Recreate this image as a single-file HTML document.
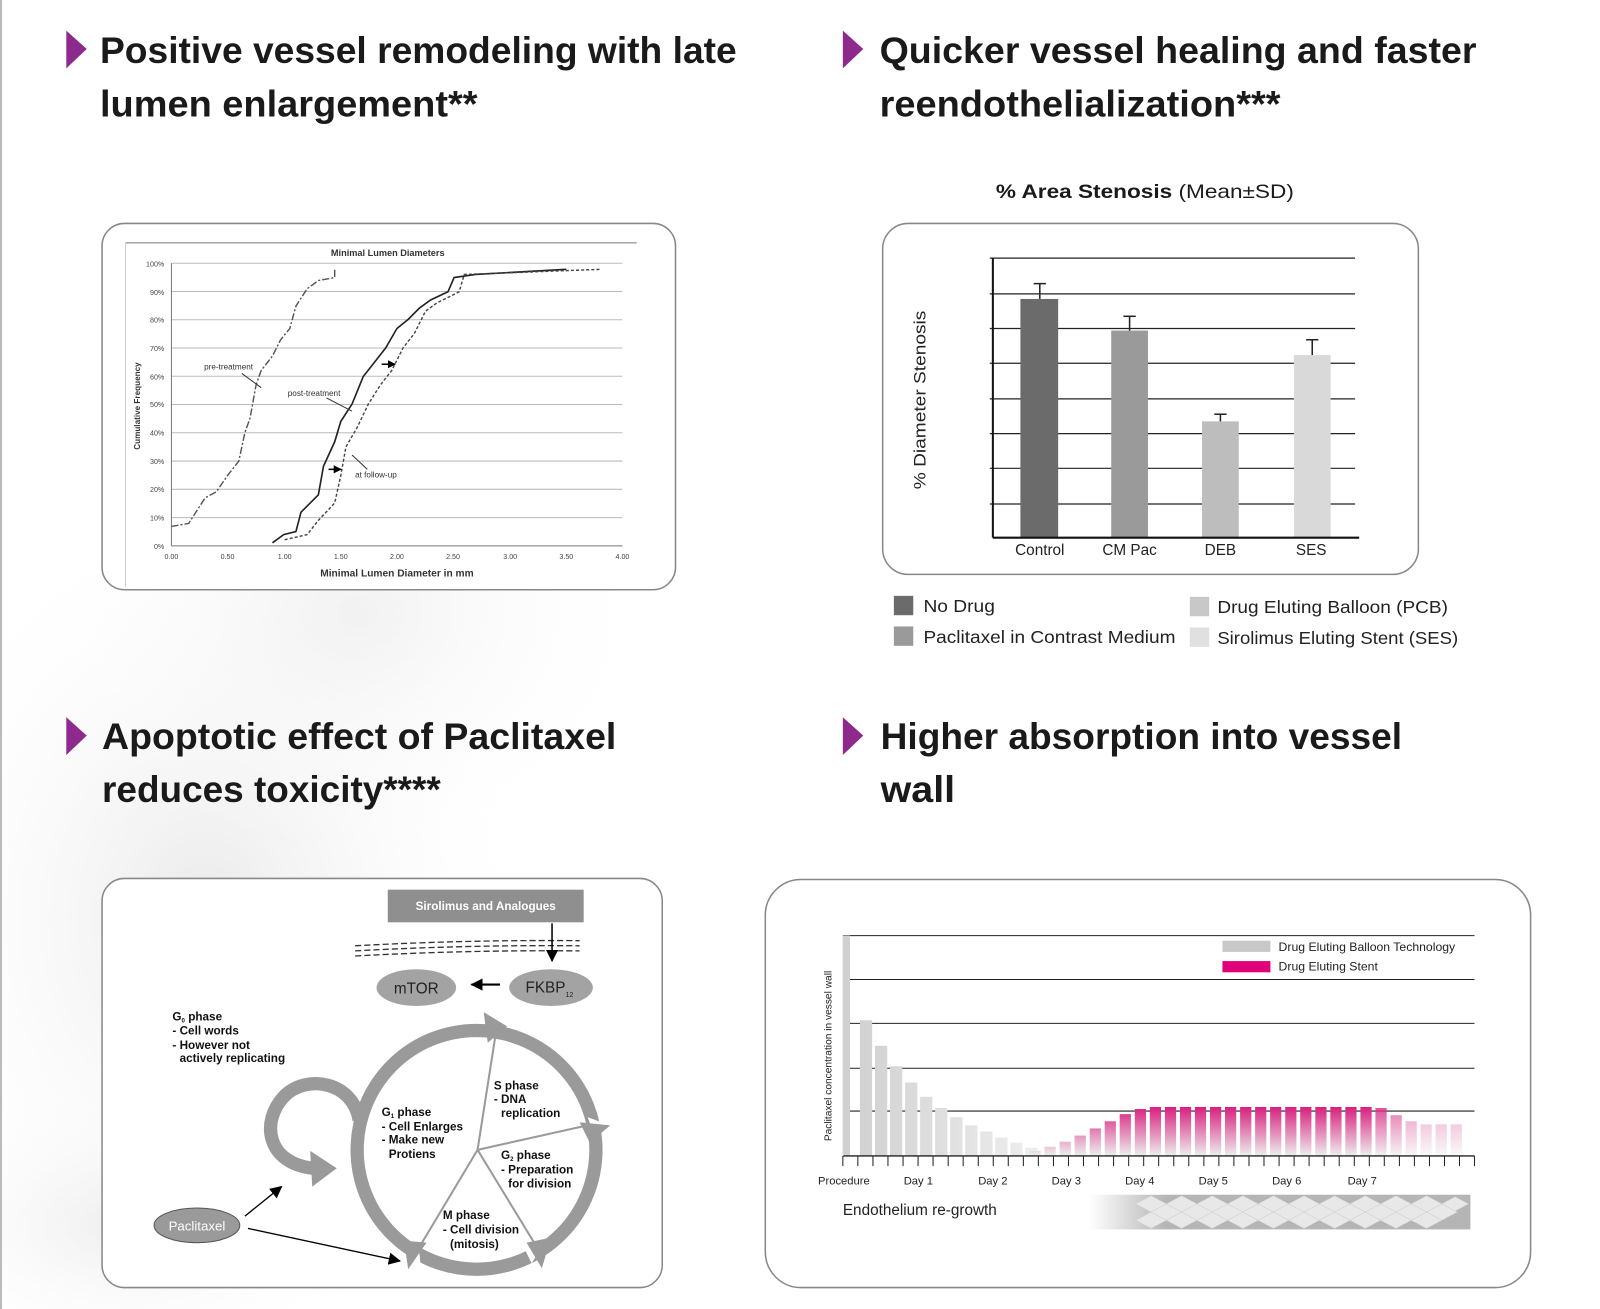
<!DOCTYPE html>
<html><head><meta charset="utf-8"><style>
html,body{margin:0;padding:0;background:#fff;width:1600px;height:1309px;overflow:hidden;}
svg{display:block;}
text{font-family:"Liberation Sans",Arial,sans-serif;}
</style></head><body>
<svg width="1600" height="1309" viewBox="0 0 1568 1283" preserveAspectRatio="none" xmlns="http://www.w3.org/2000/svg">
<defs>
<radialGradient id="bg1" cx="0.5" cy="0.5" r="0.5"><stop offset="0" stop-color="#e4e4e4"/><stop offset="1" stop-color="#fff" stop-opacity="0"/></radialGradient>
<linearGradient id="pink" gradientUnits="userSpaceOnUse" x1="0" y1="1085" x2="0" y2="1133"><stop offset="0" stop-color="#d81f7e"/><stop offset="1" stop-color="#eeeeee"/></linearGradient>
<linearGradient id="grayb" gradientUnits="userSpaceOnUse" x1="826" y1="0" x2="1010" y2="0"><stop offset="0" stop-color="#cfcfcf"/><stop offset="1" stop-color="#ededed"/></linearGradient>
<linearGradient id="band" x1="0" y1="0" x2="1" y2="0"><stop offset="0" stop-color="#fff"/><stop offset="0.2" stop-color="#b5b5b5"/><stop offset="1" stop-color="#b5b5b5"/></linearGradient>
<marker id="ah" markerWidth="8" markerHeight="8" refX="7" refY="4" orient="auto" markerUnits="userSpaceOnUse"><path d="M0,0 L8,4 L0,8z" fill="#000"/></marker>
<marker id="ahs" markerWidth="12" markerHeight="12" refX="11" refY="6" orient="auto" markerUnits="userSpaceOnUse"><path d="M0,0 L12,6 L0,12z" fill="#000"/></marker>
</defs>
<rect x="0" y="0" width="1568" height="1283" fill="#fff"/>
<ellipse cx="200" cy="900" rx="330" ry="420" fill="url(#bg1)" opacity="0.8"/>
<ellipse cx="350" cy="600" rx="300" ry="250" fill="url(#bg1)" opacity="0.5"/>
<ellipse cx="120" cy="1200" rx="250" ry="150" fill="url(#bg1)" opacity="0.6"/>
<line x1="1" y1="0" x2="1" y2="1283" stroke="#bbb" stroke-width="2"/>

<g fill="#8e2a8e">
<path d="M65,30 L85,48 L65,67z"/><path d="M826,30 L846,48 L826,67z"/>
<path d="M65,703 L85,721 L65,740z"/><path d="M826,703 L846,721 L826,740z"/>
</g>
<g font-size="36" font-weight="bold" fill="#1a1a1a">
<text x="98" y="62" textLength="624" lengthAdjust="spacingAndGlyphs">Positive vessel remodeling with late</text>
<text x="98" y="114" textLength="370" lengthAdjust="spacingAndGlyphs">lumen enlargement**</text>
<text x="862" y="62" textLength="585" lengthAdjust="spacingAndGlyphs">Quicker vessel healing and faster</text>
<text x="862" y="114" textLength="393" lengthAdjust="spacingAndGlyphs">reendothelialization***</text>
<text x="100" y="734" textLength="504" lengthAdjust="spacingAndGlyphs">Apoptotic effect of Paclitaxel</text>
<text x="100" y="786" textLength="332" lengthAdjust="spacingAndGlyphs">reduces toxicity****</text>
<text x="863" y="734" textLength="511" lengthAdjust="spacingAndGlyphs">Higher absorption into vessel</text>
<text x="863" y="786" textLength="73" lengthAdjust="spacingAndGlyphs">wall</text>
</g>

<!-- Box 1 -->
<rect x="100" y="219" width="562" height="359" rx="22" fill="#fff" stroke="#888" stroke-width="1.5"/>
<line x1="123" y1="238" x2="624" y2="238" stroke="#777"/>
<line x1="123" y1="238" x2="123" y2="575" stroke="#ccc"/>
<text x="380" y="251" font-size="9" font-weight="bold" text-anchor="middle" fill="#333">Minimal Lumen Diameters</text>
<g stroke="#bbb" stroke-width="1">
<line x1="168" y1="258" x2="610" y2="258"/><line x1="168" y1="285.7" x2="610" y2="285.7"/><line x1="168" y1="313.4" x2="610" y2="313.4"/><line x1="168" y1="341.1" x2="610" y2="341.1"/><line x1="168" y1="368.8" x2="610" y2="368.8"/><line x1="168" y1="396.5" x2="610" y2="396.5"/><line x1="168" y1="424.2" x2="610" y2="424.2"/><line x1="168" y1="451.9" x2="610" y2="451.9"/><line x1="168" y1="479.6" x2="610" y2="479.6"/><line x1="168" y1="507.3" x2="610" y2="507.3"/>
</g>
<line x1="168" y1="258" x2="168" y2="535" stroke="#777"/>
<line x1="168" y1="535" x2="610" y2="535" stroke="#777"/>
<g font-size="7" fill="#444" text-anchor="end">
<text x="161" y="261">100%</text><text x="161" y="289">90%</text><text x="161" y="316">80%</text><text x="161" y="344">70%</text><text x="161" y="372">60%</text><text x="161" y="399">50%</text><text x="161" y="427">40%</text><text x="161" y="455">30%</text><text x="161" y="482">20%</text><text x="161" y="510">10%</text><text x="161" y="538">0%</text>
</g>
<g font-size="7" fill="#444" text-anchor="middle">
<text x="168" y="548">0.00</text><text x="223" y="548">0.50</text><text x="279" y="548">1.00</text><text x="334" y="548">1.50</text><text x="389" y="548">2.00</text><text x="444" y="548">2.50</text><text x="500" y="548">3.00</text><text x="555" y="548">3.50</text><text x="610" y="548">4.00</text>
</g>
<text x="389" y="565" font-size="10" font-weight="bold" text-anchor="middle" fill="#333">Minimal Lumen Diameter in mm</text>
<text transform="translate(137,398) rotate(-90)" font-size="8" font-weight="bold" text-anchor="middle" fill="#333">Cumulative Frequency</text>
<polyline fill="none" stroke="#555" stroke-width="1.4" stroke-dasharray="7,2,2,2" points="168,516 185,513 190,505 201,488 212,482 223,466 234,452 240,424 245,410 251,377 256,363 267,349 275,333 284,322 290,300 301,283 312,275 328,272 328,264"/>
<polyline fill="none" stroke="#222" stroke-width="1.6" points="267,532 278,524 290,521 295,502 306,491 312,485 317,457 328,433 334,413 345,396 356,369 367,355 378,341 389,322 400,313 411,302 422,294 439,286 445,272 466,269 555,264"/>
<polyline fill="none" stroke="#444" stroke-width="1.4" stroke-dasharray="3,2" points="279,529 301,524 312,510 328,493 334,466 339,438 350,419 361,396 373,377 384,363 395,341 406,327 417,305 428,297 450,286 455,269 588,264"/>
<g font-size="8" fill="#333"><text x="200" y="362">pre-treatment</text><text x="282" y="388">post-treatment</text><text x="348" y="468">at follow-up</text></g>
<g stroke="#333" stroke-width="1"><line x1="237" y1="366" x2="256" y2="380"/><line x1="320" y1="390" x2="345" y2="403"/><line x1="345" y1="446" x2="360" y2="460"/></g>
<line x1="374" y1="357" x2="387" y2="357" stroke="#000" stroke-width="1.5" marker-end="url(#ah)"/>
<line x1="322" y1="460" x2="334" y2="460" stroke="#000" stroke-width="1.5" marker-end="url(#ah)"/>

<!-- Box 2 -->
<text x="1122" y="194" font-size="19" text-anchor="middle" fill="#1a1a1a" textLength="292" lengthAdjust="spacingAndGlyphs"><tspan font-weight="bold">% Area Stenosis</tspan> (Mean±SD)</text>
<rect x="865" y="219" width="525" height="344" rx="25" fill="#fff" stroke="#888" stroke-width="1.5"/>
<g stroke="#222" stroke-width="1.2">
<line x1="970" y1="253" x2="1328" y2="253"/><line x1="970" y1="288" x2="1328" y2="288"/><line x1="970" y1="322" x2="1328" y2="322"/><line x1="970" y1="356" x2="1328" y2="356"/><line x1="970" y1="391" x2="1328" y2="391"/><line x1="970" y1="425" x2="1328" y2="425"/><line x1="970" y1="459" x2="1328" y2="459"/><line x1="970" y1="494" x2="1328" y2="494"/>
</g>
<rect x="1000" y="293" width="37" height="234" fill="#6b6b6b"/>
<rect x="1089" y="324" width="36" height="203" fill="#9a9a9a"/>
<rect x="1178" y="413" width="36" height="114" fill="#bdbdbd"/>
<rect x="1268" y="348" width="36" height="179" fill="#d9d9d9"/>
<g stroke="#222" stroke-width="1.5">
<line x1="1019" y1="293" x2="1019" y2="278"/><line x1="1013" y1="278" x2="1025" y2="278"/>
<line x1="1107" y1="324" x2="1107" y2="310"/><line x1="1101" y1="310" x2="1113" y2="310"/>
<line x1="1196" y1="413" x2="1196" y2="406"/><line x1="1190" y1="406" x2="1202" y2="406"/>
<line x1="1286" y1="348" x2="1286" y2="333"/><line x1="1280" y1="333" x2="1292" y2="333"/>
</g>
<line x1="973" y1="253" x2="973" y2="527" stroke="#111" stroke-width="2"/>
<line x1="973" y1="527" x2="1332" y2="527" stroke="#111" stroke-width="2"/>
<g font-size="15" fill="#222" text-anchor="middle">
<text x="1019" y="544">Control</text><text x="1107" y="544">CM Pac</text><text x="1196" y="544">DEB</text><text x="1285" y="544">SES</text>
</g>
<text transform="translate(907,392) rotate(-90)" font-size="16" text-anchor="middle" fill="#222" textLength="175" lengthAdjust="spacingAndGlyphs">% Diameter Stenosis</text>
<rect x="876" y="584" width="19" height="19" fill="#6b6b6b"/>
<rect x="876" y="614" width="19" height="19" fill="#9a9a9a"/>
<rect x="1166" y="585" width="19" height="19" fill="#c8c8c8"/>
<rect x="1166" y="615" width="19" height="19" fill="#e0e0e0"/>
<g font-size="17" fill="#222">
<text x="905" y="600" textLength="70" lengthAdjust="spacingAndGlyphs">No Drug</text>
<text x="905" y="630" textLength="247" lengthAdjust="spacingAndGlyphs">Paclitaxel in Contrast Medium</text>
<text x="1193" y="601" textLength="226" lengthAdjust="spacingAndGlyphs">Drug Eluting Balloon (PCB)</text>
<text x="1193" y="631" textLength="236" lengthAdjust="spacingAndGlyphs">Sirolimus Eluting Stent (SES)</text>
</g>

<!-- Box 3 -->
<rect x="100" y="861" width="549" height="401" rx="22" fill="#fff" stroke="#888" stroke-width="1.5"/>
<rect x="380" y="872" width="192" height="32" fill="#8f8f8f"/>
<text x="476" y="892" font-size="11.5" font-weight="bold" text-anchor="middle" fill="#fff">Sirolimus and Analogues</text>
<g fill="none" stroke="#333" stroke-width="1.3" stroke-dasharray="6,3">
<path d="M348,927 Q458,921 568,922"/><path d="M348,932 Q458,926 568,927"/><path d="M348,937 Q458,931 568,932"/>
</g>
<line x1="541" y1="905" x2="541" y2="942" stroke="#000" stroke-width="1.5" marker-end="url(#ahs)"/>
<ellipse cx="408" cy="968" rx="39" ry="18" fill="#a3a3a3"/>
<text x="408" y="974" font-size="15" text-anchor="middle" fill="#222">mTOR</text>
<line x1="490" y1="965" x2="462" y2="965" stroke="#000" stroke-width="2" marker-end="url(#ahs)"/>
<ellipse cx="540" cy="968" rx="41" ry="18" fill="#a3a3a3"/>
<text x="515" y="973" font-size="15" fill="#222">FKBP<tspan font-size="7" dy="4">12</tspan></text>
<g font-size="11.5" font-weight="bold" fill="#111">
<text x="169" y="1000">G<tspan font-size="6" dy="2">0</tspan><tspan dy="-2"> phase</tspan></text>
<text x="169" y="1014">- Cell words</text><text x="169" y="1028">- However not</text><text x="176" y="1041">actively replicating</text>
<text x="484" y="1068">S phase</text><text x="484" y="1081">- DNA</text><text x="491" y="1095">replication</text>
<text x="374" y="1094">G<tspan font-size="6" dy="2">1</tspan><tspan dy="-2"> phase</tspan></text>
<text x="374" y="1108">- Cell Enlarges</text><text x="374" y="1121">- Make new</text><text x="381" y="1135">Protiens</text>
<text x="491" y="1136">G<tspan font-size="6" dy="2">2</tspan><tspan dy="-2"> phase</tspan></text>
<text x="491" y="1150">- Preparation</text><text x="498" y="1164">for division</text>
<text x="434" y="1195">M phase</text><text x="434" y="1209">- Cell division</text><text x="441" y="1223">(mitosis)</text>
</g>
<circle cx="467" cy="1127" r="117" fill="none" stroke="#9a9a9a" stroke-width="13"/>
<g fill="#fff"><path d="M483,998 L497,1000 L483,1018z"/><path d="M576,1095 L598,1103 L582,1112z"/><path d="M513,1222 L530,1224 L521,1238z"/><path d="M410,1218 L412,1238 L398,1232z"/></g>
<g fill="#9a9a9a">
<path d="M474,992 L497,1006 L478,1022z"/>
<path d="M568,1100 L598,1103 L578,1120z"/>
<path d="M540,1213 L531,1243 L516,1218z"/>
<path d="M418,1218 L400,1244 L396,1216z"/>
</g>
<g stroke="#9a9a9a" stroke-width="2" fill="none"><line x1="468" y1="1127" x2="486" y2="1012"/><line x1="468" y1="1127" x2="580" y2="1102"/><line x1="468" y1="1127" x2="532" y2="1232"/><line x1="468" y1="1127" x2="404" y2="1234"/></g>
<path d="M352,1098 C346,1060 300,1052 278,1075 C255,1100 262,1140 306,1145" fill="none" stroke="#9a9a9a" stroke-width="13"/>
<path d="M304,1128 L330,1145 L306,1163z" fill="#9a9a9a"/>
<ellipse cx="193" cy="1201" rx="42" ry="17" fill="#9a9a9a" stroke="#555" stroke-width="1"/>
<text x="193" y="1206" font-size="13" text-anchor="middle" fill="#fff">Paclitaxel</text>
<line x1="240" y1="1192" x2="276" y2="1163" stroke="#000" stroke-width="1.3" marker-end="url(#ahs)"/>
<line x1="243" y1="1204" x2="392" y2="1236" stroke="#000" stroke-width="1.3" marker-end="url(#ahs)"/>

<!-- Box 4 -->
<rect x="750" y="862" width="750" height="400" rx="35" fill="#fff" stroke="#888" stroke-width="1.5"/>
<g stroke="#222" stroke-width="1"><line x1="826" y1="917" x2="1445" y2="917"/><line x1="826" y1="960" x2="1445" y2="960"/><line x1="826" y1="1003" x2="1445" y2="1003"/><line x1="826" y1="1047" x2="1445" y2="1047"/><line x1="826" y1="1089" x2="1445" y2="1089"/></g>
<g fill="url(#grayb)">
<rect x="826" y="917" width="7" height="216"/>
<rect x="842.7" y="1000" width="12" height="133"/>
<rect x="857.5" y="1025" width="12" height="108"/>
<rect x="872.2" y="1045" width="12" height="88"/>
<rect x="887" y="1061" width="12" height="72"/>
<rect x="901.7" y="1075" width="12" height="58"/>
<rect x="916.4" y="1086" width="12" height="47"/>
<rect x="931.2" y="1095" width="12" height="38"/>
<rect x="945.9" y="1103" width="12" height="30"/>
<rect x="960.7" y="1109" width="12" height="24"/>
<rect x="975.4" y="1115" width="12" height="18"/>
<rect x="990.1" y="1120" width="12" height="13"/>
<rect x="1004.9" y="1125" width="12" height="8"/>
</g>
<g fill="url(#pink)">
<rect x="1009" y="1128" width="11" height="5"/>
<rect x="1023.6" y="1124" width="11" height="9"/>
<rect x="1038.4" y="1119" width="11" height="14"/>
<rect x="1053.1" y="1113" width="11" height="20"/>
<rect x="1067.9" y="1106" width="11" height="27"/>
<rect x="1082.6" y="1099" width="11" height="34"/>
<rect x="1097.3" y="1092" width="11" height="41"/>
<rect x="1112.1" y="1087" width="11" height="46"/>
<rect x="1126.8" y="1085" width="11" height="48"/>
<rect x="1141.6" y="1085" width="11" height="48"/>
<rect x="1156.3" y="1085" width="11" height="48"/>
<rect x="1171" y="1085" width="11" height="48"/>
<rect x="1185.8" y="1085" width="11" height="48"/>
<rect x="1200.5" y="1085" width="11" height="48"/>
<rect x="1215.3" y="1085" width="11" height="48"/>
<rect x="1230" y="1085" width="11" height="48"/>
<rect x="1244.7" y="1085" width="11" height="48"/>
<rect x="1259.5" y="1085" width="11" height="48"/>
<rect x="1274.2" y="1085" width="11" height="48"/>
<rect x="1289" y="1085" width="11" height="48"/>
<rect x="1303.7" y="1085" width="11" height="48"/>
<rect x="1318.4" y="1085" width="11" height="48"/>
<rect x="1333.2" y="1085" width="11" height="48"/>
<rect x="1347.9" y="1086" width="11" height="47" opacity="0.8"/>
<rect x="1362.7" y="1093" width="11" height="40" opacity="0.6"/>
<rect x="1377.4" y="1099" width="11" height="34" opacity="0.45"/>
<rect x="1392.1" y="1102" width="11" height="31" opacity="0.35"/>
<rect x="1406.9" y="1102" width="11" height="31" opacity="0.35"/>
<rect x="1421.6" y="1102" width="11" height="31" opacity="0.35"/>
</g>
<line x1="826" y1="1133" x2="1445" y2="1133" stroke="#222" stroke-width="1.3"/>
<line x1="826" y1="917" x2="826" y2="1133" stroke="#ddd" stroke-width="1"/>
<path stroke="#222" stroke-width="1" d="M826,1133v10M840.7,1133v10M855.5,1133v10M870.2,1133v10M885,1133v10M899.7,1133v10M914.4,1133v10M929.2,1133v10M943.9,1133v10M958.7,1133v10M973.4,1133v10M988.1,1133v10M1002.9,1133v10M1017.6,1133v10M1032.4,1133v10M1047.1,1133v10M1061.8,1133v10M1076.6,1133v10M1091.3,1133v10M1106.1,1133v10M1120.8,1133v10M1135.5,1133v10M1150.3,1133v10M1165,1133v10M1179.8,1133v10M1194.5,1133v10M1209.2,1133v10M1224,1133v10M1238.7,1133v10M1253.5,1133v10M1268.2,1133v10M1282.9,1133v10M1297.7,1133v10M1312.4,1133v10M1327.2,1133v10M1341.9,1133v10M1356.6,1133v10M1371.4,1133v10M1386.1,1133v10M1400.9,1133v10M1415.6,1133v10M1430.3,1133v10M1445,1133v10"/>
<g font-size="11" fill="#222" text-anchor="middle">
<text x="827" y="1161">Procedure</text><text x="900" y="1161">Day 1</text><text x="973" y="1161">Day 2</text><text x="1045" y="1161">Day 3</text><text x="1117" y="1161">Day 4</text><text x="1189" y="1161">Day 5</text><text x="1261" y="1161">Day 6</text><text x="1335" y="1161">Day 7</text>
</g>
<text transform="translate(815,1035) rotate(-90)" font-size="10" text-anchor="middle" fill="#222">Paclitaxel concentration in vessel wall</text>
<rect x="1198" y="922" width="47" height="11" fill="#c8c8c8"/>
<rect x="1198" y="942" width="47" height="11" fill="#e0007a"/>
<g font-size="12" fill="#222"><text x="1253" y="932">Drug Eluting Balloon Technology</text><text x="1253" y="951">Drug Eluting Stent</text></g>
<text x="826" y="1191" font-size="15" fill="#222">Endothelium re-growth</text>
<rect x="1068" y="1171" width="373" height="34" fill="url(#band)"/>
<g fill="#e8e8e8" stroke="#cfcfcf" stroke-width="0.5">
<path d="M1113,1180 l15,-8 15,8 -15,8z M1143,1180 l15,-8 15,8 -15,8z M1173,1180 l15,-8 15,8 -15,8z M1203,1180 l15,-8 15,8 -15,8z M1233,1180 l15,-8 15,8 -15,8z M1263,1180 l15,-8 15,8 -15,8z M1293,1180 l15,-8 15,8 -15,8z M1323,1180 l15,-8 15,8 -15,8z M1353,1180 l15,-8 15,8 -15,8z M1383,1180 l15,-8 15,8 -15,8z M1413,1180 l13,-7 13,7 -13,7z"/>
<path d="M1113,1196 l15,-8 15,8 -15,8z M1143,1196 l15,-8 15,8 -15,8z M1173,1196 l15,-8 15,8 -15,8z M1203,1196 l15,-8 15,8 -15,8z M1233,1196 l15,-8 15,8 -15,8z M1263,1196 l15,-8 15,8 -15,8z M1293,1196 l15,-8 15,8 -15,8z M1323,1196 l15,-8 15,8 -15,8z M1353,1196 l15,-8 15,8 -15,8z M1383,1196 l15,-8 15,8 -15,8z"/>
<path d="M1128,1188 l15,-8 15,8 -15,8z M1158,1188 l15,-8 15,8 -15,8z M1188,1188 l15,-8 15,8 -15,8z M1218,1188 l15,-8 15,8 -15,8z M1248,1188 l15,-8 15,8 -15,8z M1278,1188 l15,-8 15,8 -15,8z M1308,1188 l15,-8 15,8 -15,8z M1338,1188 l15,-8 15,8 -15,8z M1368,1188 l15,-8 15,8 -15,8z M1398,1188 l15,-8 15,8 -15,8z"/>
</g>
</svg>
</body></html>
